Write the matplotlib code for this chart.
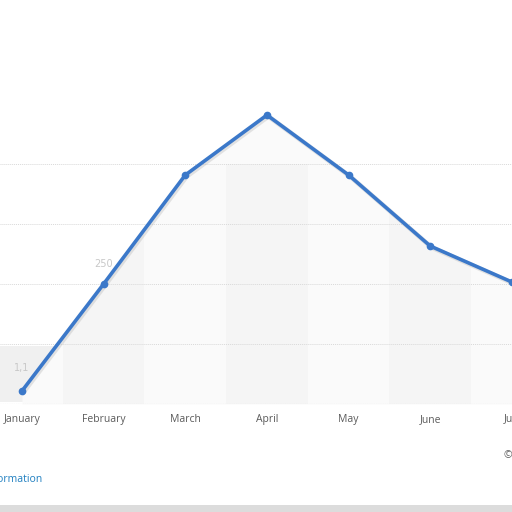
import matplotlib.pyplot as plt
import matplotlib.transforms as mtransforms
from matplotlib.patches import Rectangle

months = ["January", "February", "March", "April", "May", "June", "July"]
values = [27, 250, 477, 602, 477, 329, 254]
grid_values = [125, 250, 375, 500]

line_color = "#3b78c9"

fig = plt.figure(figsize=(5.12, 5.12), dpi=100)
ax = fig.add_axes([0, 108 / 512, 1, 404 / 512])
x = list(range(len(months)))

ax.set_xlim(-22 / 82, (512 - 22) / 82)
ax.set_ylim(0, 404 / 0.48)

# blurred box left over from the source screenshot
ax.add_patch(Rectangle((-22 / 82, 2 / 0.48), 60 / 82, 56 / 0.48,
                       color="#f0f0f0", lw=0, zorder=0.5))

# light area under the line
area = ax.fill_between(x, values, 0, color="#fafafa", lw=0, zorder=1)

# alternating column bands, only visible under the line
clip = area.get_paths()[0]
for i in x:
    if i % 2 == 1:
        band = ax.bar(i, grid_values[-1], width=1, color="#f5f5f5", lw=0, zorder=1.5)
        for b in band:
            b.set_clip_path(clip, ax.transData)

for g in grid_values:
    ax.axhline(g, color="#d9d9d9", lw=0.7, ls=(0, (1, 1)), zorder=2)
ax.axhline(0, color="#cfcfcf", lw=0.8, ls=(0, (1, 1)), zorder=2)

ax.text(1, 250 + 20 / 0.48, "250", ha="center", va="center",
        fontsize=7, color="#c8c8c8", zorder=2)
ax.text(0, 27 + 23 / 0.48, "1,1", ha="center", va="center",
        fontsize=7, color="#c8c8c8", zorder=2)

# soft shadow, then the line
shadow = mtransforms.offset_copy(ax.transData, fig=fig, x=1, y=-1, units="points")
ax.plot(x, values, color="#999999", lw=3.4, alpha=0.25, transform=shadow,
        zorder=3, solid_joinstyle="round")
ax.plot(x, values, color=line_color, lw=2.6, marker="o", ms=4.5,
        zorder=4, solid_joinstyle="round", clip_on=False)

ax.set_xticks(x)
ax.set_xticklabels(months, fontsize=7.5, color="#5a5a5a", fontfamily="Open Sans")
ax.tick_params(axis="x", length=0, pad=7)
ax.set_yticks([])
for s in ax.spines.values():
    s.set_visible(False)
ax.set_facecolor("none")

fig.text(42 / 512, 1 - 479 / 512, "Additional Information", ha="right", va="center",
         fontsize=7.5, color="#1f7fc0", fontfamily="Open Sans")
fig.text(504 / 512, 1 - 456 / 512, "\u00a9 Statista 2024", ha="left", va="center",
         fontsize=7.5, color="#5a5a5a", fontfamily="Open Sans")

# grey strip at the bottom edge
fig.patches.append(Rectangle((0, 0), 1, 7 / 512, transform=fig.transFigure,
                             color="#dcdcdc", lw=0, zorder=0))

fig.savefig("out.png", dpi=100)
